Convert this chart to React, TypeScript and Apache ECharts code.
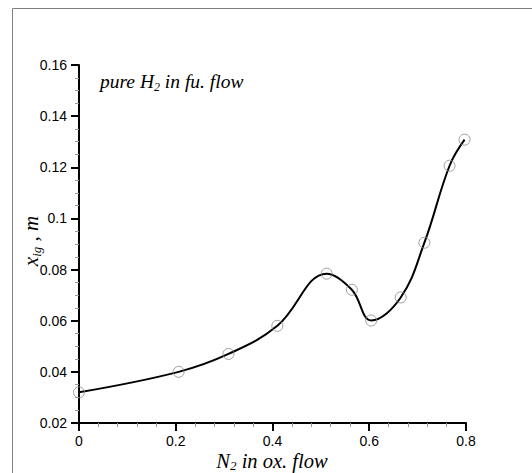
import React, { useEffect, useRef } from "react";
import * as echarts from "echarts";

const xValues = [0, 0.206, 0.309, 0.41, 0.512, 0.564, 0.604, 0.665, 0.714, 0.766, 0.797];
const yValues = [0.032, 0.04, 0.047, 0.058, 0.0784, 0.0721, 0.0601, 0.0691, 0.0905, 0.1206, 0.1308];
const xTicks = { min: 0, max: 0.8, interval: 0.2 };
const yTicks = { min: 0.02, max: 0.16, interval: 0.02 };

export default function App() {
  const ref = useRef<HTMLDivElement>(null);
  useEffect(() => {
    if (!ref.current) return;
    const chart = echarts.init(ref.current, null, { renderer: "svg" });
    const pts = xValues.map((x, i) => [x, yValues[i]]);
    const serif = "Liberation Serif";
    const sans = "Liberation Sans";
    chart.setOption({
      animation: false,
      backgroundColor: "#fff",
      grid: { left: 79, top: 65, right: 66, bottom: 50, containLabel: false },
      xAxis: {
        type: "value",
        min: xTicks.min,
        max: xTicks.max,
        interval: xTicks.interval,
        axisLine: { show: true, onZero: false, lineStyle: { color: "#000", width: 2 } },
        axisTick: { show: true, length: 8, lineStyle: { color: "#000", width: 2 } },
        minorTick: { show: true, splitNumber: 5, length: 4, lineStyle: { color: "#999", width: 1 } },
        splitLine: { show: false },
        axisLabel: {
          color: "#000",
          fontFamily: sans,
          fontSize: 14,
          margin: 11,
          lineHeight: 14,
          formatter: (v: number) => String(Math.round(v * 100) / 100),
        },
      },
      yAxis: {
        type: "value",
        min: yTicks.min,
        max: yTicks.max,
        interval: yTicks.interval,
        axisLine: { show: true, onZero: false, lineStyle: { color: "#000", width: 2 } },
        axisTick: { show: true, length: 8, lineStyle: { color: "#000", width: 2 } },
        minorTick: { show: true, splitNumber: 4, length: 4, lineStyle: { color: "#999", width: 1 } },
        splitLine: { show: false },
        axisLabel: {
          color: "#000",
          fontFamily: sans,
          fontSize: 14,
          margin: 12,
          formatter: (v: number) => String(Math.round(v * 1000) / 1000),
        },
      },
      series: [
        {
          type: "line",
          data: pts,
          smooth: 0.4,
          showSymbol: false,
          lineStyle: { color: "#000", width: 2 },
          z: 2,
        },
        {
          type: "scatter",
          data: pts,
          symbol: "circle",
          symbolSize: 11,
          itemStyle: { color: "transparent", borderColor: "#888", borderWidth: 1 },
          z: 3,
        },
      ],
      graphic: [
        {
          type: "line",
          shape: { x1: 12.5, y1: 8.5, x2: 532, y2: 8.5 },
          style: { stroke: "#808080", lineWidth: 1 },
        },
        {
          type: "line",
          shape: { x1: 12.5, y1: 8.5, x2: 12.5, y2: 473 },
          style: { stroke: "#808080", lineWidth: 1 },
        },
        {
          type: "text",
          left: 100,
          top: 71,
          style: {
            text: "{n|pure H}{s|2}{n| in fu. flow}",
            rich: {
              n: { fontFamily: serif, fontStyle: "italic", fontSize: 19.5, lineHeight: 24, fill: "#000" },
              s: { fontFamily: serif, fontStyle: "italic", fontSize: 12, lineHeight: 8, verticalAlign: "bottom", fill: "#000" },
            },
          },
        },
        {
          type: "text",
          x: 272,
          y: 461,
          style: {
            text: "{n|N}{s|2}{n| in ox. flow}",
            align: "center",
            verticalAlign: "middle",
            rich: {
              n: { fontFamily: serif, fontStyle: "italic", fontSize: 20.5, lineHeight: 22, fill: "#000" },
              s: { fontFamily: serif, fontStyle: "italic", fontSize: 13, lineHeight: 7, verticalAlign: "bottom", fill: "#000" },
            },
          },
        },
        {
          type: "text",
          x: 31,
          y: 241,
          rotation: Math.PI / 2,
          style: {
            text: "{n|x}{s|ig}{n| , m}",
            align: "center",
            verticalAlign: "middle",
            rich: {
              n: { fontFamily: serif, fontStyle: "italic", fontSize: 21, lineHeight: 24, fill: "#000" },
              s: { fontFamily: serif, fontStyle: "italic", fontSize: 13, lineHeight: 8, verticalAlign: "bottom", fill: "#000" },
            },
          },
        },
      ],
    });
    return () => chart.dispose();
  }, []);
  return (
    <div
      ref={ref}
      style={{ position: "absolute", left: 0, top: 0, width: 532, height: 473 }}
    />
  );
}
